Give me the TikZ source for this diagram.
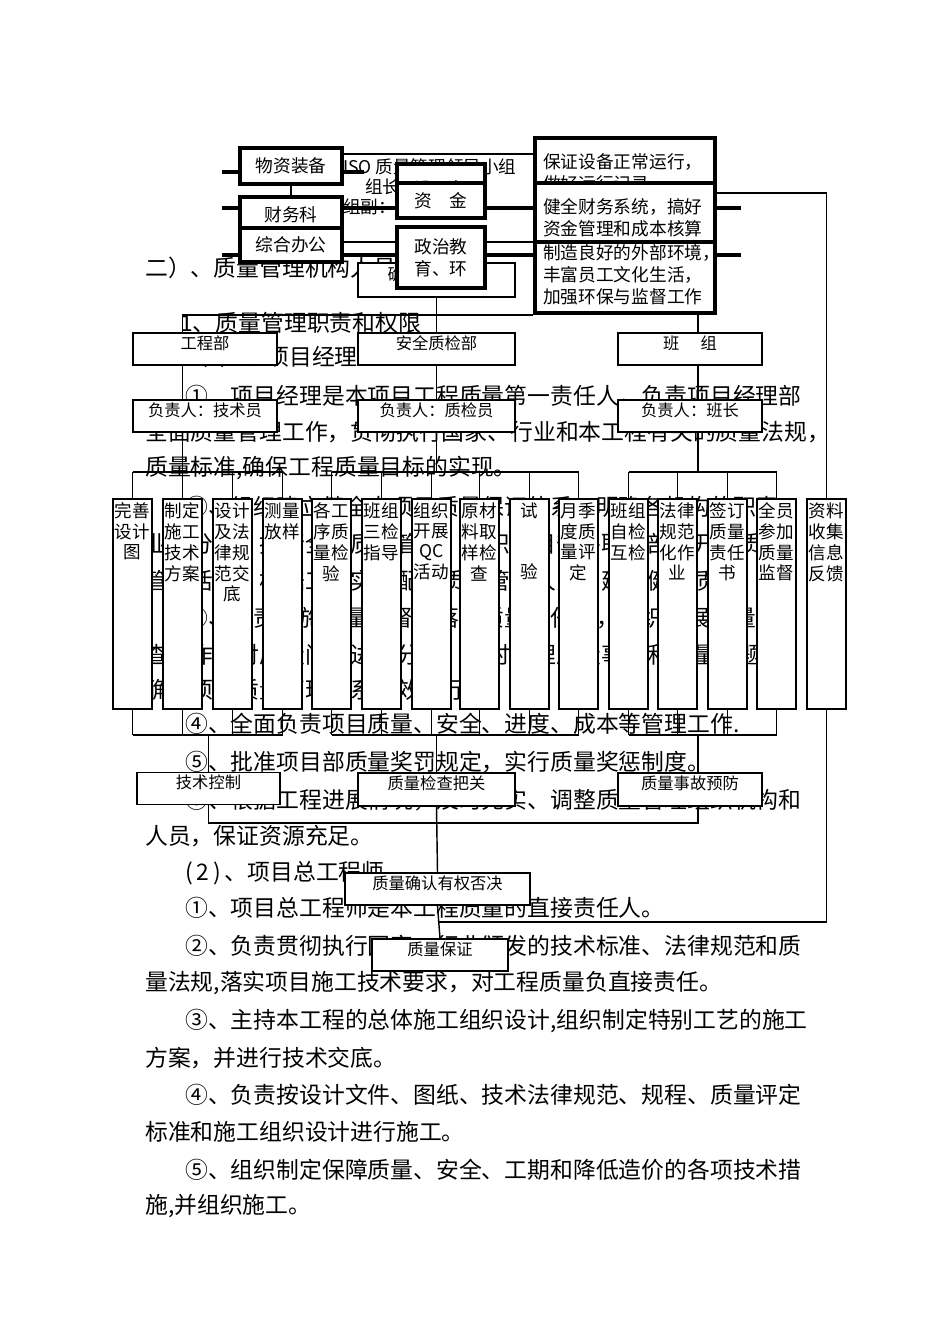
\documentclass[tikz,border=0pt]{standalone}
\usepackage{fontspec}
\setmainfont{Noto Sans CJK SC}
\usetikzlibrary{backgrounds}
\newdimen\pxu \pxu=0.62663pt
\tikzset{
  para/.style   ={anchor=west, inner sep=0pt, font=\fontsize{14.3pt}{16pt}\selectfont},
  note/.style   ={anchor=west, inner sep=0pt, font=\fontsize{11pt}{13pt}\selectfont},
  bigbox/.style ={draw, line width=2.4pt, fill=white, inner sep=0pt, align=center,
                  font=\fontsize{11.1pt}{13.8pt}\selectfont},
  textbox/.style={bigbox, minimum width=180\pxu},
  midbox/.style ={draw, line width=1.1pt, fill=white, inner sep=0pt,
                  text height=10pt, text depth=10pt, minimum height=32\pxu,
                  font=\fontsize{10.2pt}{12pt}\selectfont},
  colbox/.style ={draw, line width=1.3pt, fill=white, anchor=north, inner sep=0pt,
                  minimum width=39\pxu, text height=11.7pt, text depth=119.9pt,
                  font=\fontsize{11pt}{12.5pt}\selectfont},
  wire/.style   ={line width=0.9pt},
  bar/.style    ={line width=2.4pt},
}
\newcommand\stack[1]{\begin{tabular}[t]{@{}c@{}}#1\end{tabular}}
\newcommand\lstack[1]{\begin{tabular}[t]{@{}p{164\pxu}@{}}#1\end{tabular}}

\begin{document}
\begin{tikzpicture}[x=\pxu, y=-\pxu]
  \useasboundingbox (0,0) rectangle (950,1344);

  %% top group
  \node[note] (iso) at (343,167) {ISO 质量管理领导小组};
  \node[note] (zuz) at (365,187) {组长：项目经理};
  \node[note] (zuf) at (343,207) {组副：工程};
  \node[bigbox, minimum width=102\pxu, minimum height=36\pxu] (wzzb) at (291,166) {物资装备};
  \node[bigbox, minimum width=102\pxu, minimum height=35\pxu] (cwk) at (291,214.5) {财务科};
  \node[bigbox, minimum width=102\pxu, minimum height=34\pxu] (zhbg) at (291,245) {综合办公};
  \node[bigbox, minimum width=88\pxu, text height=19.5pt, text depth=5.5pt] (sb) at (441,184) {设\quad 备};
  \node[bigbox, minimum width=88\pxu, minimum height=35\pxu] (zj) at (441,200.5) {资\quad 金};
  \node[midbox, minimum width=157\pxu, minimum height=34\pxu] (qb) at (436.5,280) {确保工程质量};
  \node[bigbox, minimum width=88\pxu, minimum height=61\pxu] (zzjy) at (441,257.5) {政治教\\育、环};
  \node[textbox, text height=19.2pt, text depth=25.3pt] (bzsb) at (625,173.5)
    {\lstack{保证设备正常运行，\\做好运行记录}};
  \node[textbox, text height=10.8pt, text depth=33.7pt] (zzlh) at (625,277.5)
    {\lstack{制造良好的外部环境，\\丰富员工文化生活，\\加强环保与监督工作}};
  \node[textbox, text height=19pt, text depth=18pt] (jqcw) at (625,212.5)
    {\lstack{健全财务系统，搞好\\资金管理和成本核算}};

  %% departments
  \node[midbox, minimum width=144\pxu] (gcb)  at (205,349)   {工程部};
  \node[midbox, minimum width=157\pxu] (aqzj) at (436.5,349) {安全质检部};
  \node[midbox, minimum width=144\pxu] (bz)   at (690,349)   {班\hspace{1.3em}组};
  \node[midbox, minimum width=144\pxu] (jsy)  at (205,416)   {负责人：技术员};
  \node[midbox, minimum width=157\pxu] (zjy)  at (436.5,416) {负责人：质检员};
  \node[midbox, minimum width=144\pxu] (bzz)  at (690,416)   {负责人：班长};

  %% tasks
  \node[colbox] (c1)  at (132.5,498) {\stack{完善\\设计\\图}};
  \node[colbox] (c2)  at (182.5,498) {\stack{制定\\施工\\技术\\方案}};
  \node[colbox] (c3)  at (232.5,498) {\stack{设计\\及法\\律规\\范交\\底}};
  \node[colbox] (c4)  at (282.5,498) {\stack{测量\\放样}};
  \node[colbox] (c5)  at (331.5,498) {\stack{各工\\序质\\量检\\验}};
  \node[colbox] (c6)  at (381.5,498) {\stack{班组\\三检\\指导}};
  \node[colbox] (c7)  at (431.5,498) {\stack{组织\\开展\\QC\\活动}};
  \node[colbox] (c8)  at (479.5,498) {\stack{原材\\料取\\样检\\查}};
  \node[colbox] (c9)  at (529.5,498) {\stack{试\\ \\ \\验}};
  \node[colbox] (c10) at (578.5,498) {\stack{月季\\度质\\量评\\定}};
  \node[colbox] (c11) at (628.5,498) {\stack{班组\\自检\\互检}};
  \node[colbox] (c12) at (677.5,498) {\stack{法律\\规范\\化作\\业}};
  \node[colbox] (c13) at (727.5,498) {\stack{签订\\质量\\责任\\书}};
  \node[colbox] (c14) at (776.5,498) {\stack{全员\\参加\\质量\\监督}};
  \node[colbox] (c15) at (826.5,498) {\stack{资料\\收集\\信息\\反馈}};

  %% control and result
  \node[midbox, minimum width=143\pxu, minimum height=31\pxu] (jskz) at (208.5,788.5) {技术控制};
  \node[midbox, minimum width=157\pxu, minimum height=33\pxu] (zljc) at (436.5,789.5) {质量检查把关};
  \node[midbox, minimum width=144\pxu, minimum height=33\pxu] (zlsg) at (690,789.5)   {质量事故预防};
  \node[midbox, minimum width=185\pxu] (zlqr) at (437.5,889) {质量确认有权否决};
  \node[midbox, minimum width=136\pxu, minimum height=30\pxu] (zlbz) at (440,955) {质量保证};

  \begin{scope}[on background layer]
    \fill[white] (0,0) rectangle (950,1344);
    %% page text
    \node[para] (t01) at (145,268)  {二）、质量管理机构人员职责};
    \node[para] (t02) at (180,323)  {1、质量管理职责和权限};
    \node[para] (t03) at (185,357)  {（1）、项目经理};
    \node[para] (t04) at (185,396)  {①、项目经理是本项目工程质量第一责任人，负责项目经理部};
    \node[para] (t05) at (145,432)  {全面质量管理工作，贯彻执行国家、行业和本工程有关的质量法规，};
    \node[para] (t06) at (145,468)  {质量标准,确保工程质量目标的实现。};
    \node[para] (t07) at (185,507)  {②、组织建立健全本项目质量保证体系，明确各机构的职责，};
    \node[para] (t08) at (145,544)  {业务分工，推行全面质量管理，组织项目部各职能部门开展质量};
    \node[para] (t09) at (145,581)  {管理活动，根据工程实际配备质量管理人员，建立健全质量};
    \node[para] (t10) at (185,618)  {③、负责实施质量监督，落实质量责任制，组织开展质量检};
    \node[para] (t11) at (145,655)  {查工作，对质量问题进行分析，及时处理质量事故和质量问题，};
    \node[para] (t12) at (145,690)  {确保项目质量管理体系有效运行。};
    \node[para] (t13) at (185,724)  {④、全面负责项目质量、安全、进度、成本等管理工作.};
    \node[para] (t14) at (185,762)  {⑤、批准项目部质量奖罚规定，实行质量奖惩制度。};
    \node[para] (t15) at (185,800)  {⑥、根据工程进展情况，及时充实、调整质量管理组织机构和};
    \node[para] (t16) at (145,836)  {人员，保证资源充足。};
    \node[para] (t17) at (185,873)  {(\,2\,)\,、项目总工程师};
    \node[para] (t18) at (185,908)  {①、项目总工程师是本工程质量的直接责任人。};
    \node[para] (t19) at (185,946)  {②、负责贯彻执行国家、行业颁发的技术标准、法律规范和质};
    \node[para] (t20) at (145,983)  {量法规,落实项目施工技术要求，对工程质量负直接责任。};
    \node[para] (t21) at (185,1021) {③、主持本工程的总体施工组织设计,组织制定特别工艺的施工};
    \node[para] (t22) at (145,1058) {方案，并进行技术交底。};
    \node[para] (t23) at (185,1095) {④、负责按设计文件、图纸、技术法律规范、规程、质量评定};
    \node[para] (t24) at (145,1132) {标准和施工组织设计进行施工。};
    \node[para] (t25) at (185,1170) {⑤、组织制定保障质量、安全、工期和降低造价的各项技术措};
    \node[para] (t26) at (145,1206) {施,并组织施工。};

    %% rows and columns of the wiring
    \coordinate (lx) at (222,0);  \coordinate (rx) at (741,0);
    \coordinate (r0) at (0,172);  \coordinate (r1) at (0,154);
    \coordinate (r2) at (0,208);  \coordinate (r3) at (0,255);
    \coordinate (r4) at (0,242);  \coordinate (r5) at (0,193);
    \coordinate (tb) at (0,472);  \coordinate (bb) at (0,735);
    \coordinate (lb) at (0,823);  \coordinate (v3) at (698,0);

    %% top group wiring
    \draw[bar] (lx |- r0) -- (wzzb.east |- r0) -- ++(20,0);
    \draw[bar] (lx |- r2) -- (rx |- r2);
    \draw[bar] (lx |- r3) -- (rx |- r3);
    \draw[wire] (wzzb.east |- r1) -- (bzsb.west |- r1);
    \draw[wire] (zhbg.east |- r4) -- (zzlh.west |- r4);
    \draw[wire] (wzzb.south) -- (cwk.north);

    %% down to the tasks
    \draw[wire] (zzlh.south west) -- (c2.north |- zzlh.south) -- (c2.north);
    \draw[wire] (qb.south) -- (qb.south |- tb);
    \draw[wire] (v3 |- zzlh.south) -- (v3 |- tb);
    \draw[wire] (c1.north |- tb) -- (c4.north |- tb);
    \draw[wire] (c5.north |- tb) -- (c10.north |- tb);
    \draw[wire] (c11.north |- tb) -- (c14.north |- tb);
    \foreach \i in {1,3,4,5,6,7,8,9,10,11,12,13,14}
      \draw[wire] (c\i.north) -- (c\i.north |- tb);

    %% tasks to controls
    \foreach \i in {1,...,14}
      \draw[wire] (c\i.south) -- (c\i.south |- bb);
    \draw[wire] (c1.south |- bb) -- (c4.south |- bb);
    \draw[wire] (c5.south |- bb) -- (c10.south |- bb);
    \draw[wire] (c11.south |- bb) -- (c14.south |- bb);
    \draw[wire] (jskz.north) -- (jskz.north |- bb);
    \draw[wire] (zljc.north) -- (zljc.north |- bb);
    \draw[wire] (v3 |- zlsg.north) -- (v3 |- bb);

    %% controls to result, feedback
    \draw[wire] (jskz.south) -- (jskz.south |- lb) -- (v3 |- lb) -- (v3 |- zlsg.south);
    \draw[wire] (zljc.south) -- (zlqr.north);
    \draw[wire] (zlqr.south) -- (zlbz.north);
    \draw[wire] (zlqr.south) ++(0,16) -| (c15.center) |- (jqcw.east |- r5);
  \end{scope}
\end{tikzpicture}
\end{document}
